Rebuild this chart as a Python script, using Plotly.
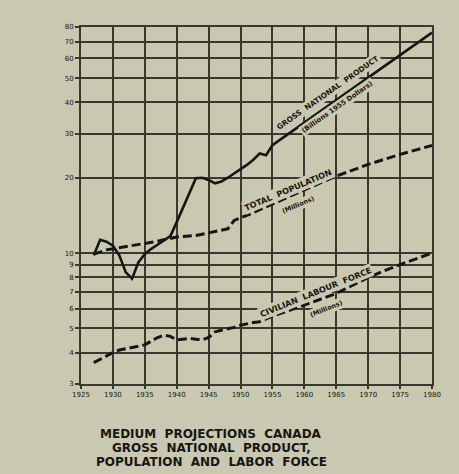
import math
import plotly.graph_objects as go

# Historical years and medium projection years
years_hist = list(range(1927, 1956))
gnp_proj_years = [1955, 1980]
proj_years = [1955, 1960, 1965, 1970, 1975, 1980]

# Gross national product, billions of 1955 dollars
gnp_hist = [9.8, 11.3, 11.1, 10.7, 9.8, 8.4, 7.9, 9.2, 9.9, 10.4,
            10.8, 11.2, 11.7, 13.3, 15.2, 17.2, 19.9, 20.0, 19.6, 19.0,
            19.3, 20.0, 20.8, 21.5, 22.5, 23.6, 25.0, 24.6, 27.0]
gnp_proj = [27.0, 76.0]

# Total population, millions
pop_hist = [9.9, 10.1, 10.3, 10.4, 10.5, 10.6, 10.7, 10.8, 10.95, 11.05,
            11.15, 11.3, 11.45, 11.6, 11.65, 11.7, 11.75, 11.9, 12.05, 12.2,
            12.4, 12.5, 13.5, 13.8, 14.1, 14.5, 14.9, 15.3, 15.7]
pop_proj = [15.7, 17.9, 20.3, 22.6, 24.8, 26.9]

# Civilian labour force, millions
lab_hist = [3.65, 3.75, 3.88, 4.0, 4.1, 4.15, 4.2, 4.25, 4.3, 4.45,
            4.6, 4.7, 4.65, 4.5, 4.52, 4.56, 4.53, 4.5, 4.6, 4.85,
            4.92, 4.97, 5.05, 5.15, 5.22, 5.28, 5.32, 5.45, 5.6]
lab_proj = [5.6, 6.2, 6.9, 8.0, 9.0, 10.0]

x_ticks = list(range(1925, 1981, 5))
y_ticks = [3, 4, 5, 6, 7, 8, 9, 10, 20, 30, 40, 50, 60, 70, 80]

title_lines = ["MEDIUM  PROJECTIONS  CANADA",
               "GROSS  NATIONAL  PRODUCT,",
               "POPULATION  AND  LABOR  FORCE"]

PAPER = "#c9c8b0"
INK = "#161612"
GRID = "#3a392e"

fig = go.Figure()

gnp_line = dict(color=INK, width=2.6)
dash_line = dict(color=INK, width=3, dash="9px,4px")

fig.add_trace(go.Scatter(x=years_hist, y=gnp_hist, mode="lines", line=gnp_line, showlegend=False))
fig.add_trace(go.Scatter(x=gnp_proj_years, y=gnp_proj, mode="lines", line=gnp_line, showlegend=False))
fig.add_trace(go.Scatter(x=years_hist + proj_years[1:], y=pop_hist + pop_proj[1:],
                         mode="lines", line=dash_line, showlegend=False))
fig.add_trace(go.Scatter(x=years_hist + proj_years[1:], y=lab_hist + lab_proj[1:],
                         mode="lines", line=dash_line, showlegend=False))


def series_label(text, year, value, angle, size):
    return dict(
        text="<b>" + text + "</b>", x=year, y=math.log10(value), xref="x", yref="y",
        showarrow=False, textangle=angle, bgcolor=PAPER, borderpad=1,
        font=dict(family="DejaVu Sans", size=size, color=INK),
    )


annotations = [
    series_label("GROSS  NATIONAL  PRODUCT", 1963.7, 44.0, -35, 7.5),
    series_label("(Billions 1955 Dollars)", 1965.2, 38.2, -35, 6.8),
    series_label("TOTAL  POPULATION", 1957.4, 17.9, -23, 8.2),
    series_label("(Millions)", 1959.0, 15.6, -23, 6.5),
    series_label("CIVILIAN  LABOUR  FORCE", 1961.8, 7.0, -22, 8.2),
    series_label("(Millions)", 1963.4, 6.0, -22, 6.5),
]

# Caption block under the chart, one annotation per line
plot_top, plot_h, plot_left, plot_w = 27, 357, 81, 351
for i, line in enumerate(title_lines):
    ypx = 434 + 14 * i
    annotations.append(dict(
        text="<b>" + line + "</b>",
        x=(211 - plot_left) / plot_w, y=(plot_top + plot_h - ypx) / plot_h,
        xref="paper", yref="paper", xanchor="center", yanchor="middle",
        showarrow=False, font=dict(family="DejaVu Sans", size=12, color=INK),
    ))

fig.update_layout(
    width=459, height=474,
    margin=dict(l=81, r=27, t=27, b=90),
    paper_bgcolor=PAPER, plot_bgcolor=PAPER,
    annotations=annotations,
    xaxis=dict(
        range=[1925, 1980], tickvals=x_ticks, ticktext=[str(v) for v in x_ticks],
        showgrid=True, gridcolor=GRID, gridwidth=1.8,
        showline=True, linecolor=GRID, linewidth=1.8, mirror=True,
        ticks="outside", ticklen=3, tickcolor=GRID, tickwidth=1.5,
        tickfont=dict(family="DejaVu Sans", size=7, color=INK), zeroline=False,
    ),
    yaxis=dict(
        type="log", range=[math.log10(3), math.log10(80)],
        tickvals=y_ticks, ticktext=[str(v) for v in y_ticks],
        showgrid=True, gridcolor=GRID, gridwidth=1.8,
        showline=True, linecolor=GRID, linewidth=1.8, mirror=True,
        ticks="outside", ticklen=4, tickcolor=GRID, tickwidth=1.5,
        tickfont=dict(family="DejaVu Sans", size=7, color=INK), zeroline=False,
    ),
)

fig.write_html("out.html")
